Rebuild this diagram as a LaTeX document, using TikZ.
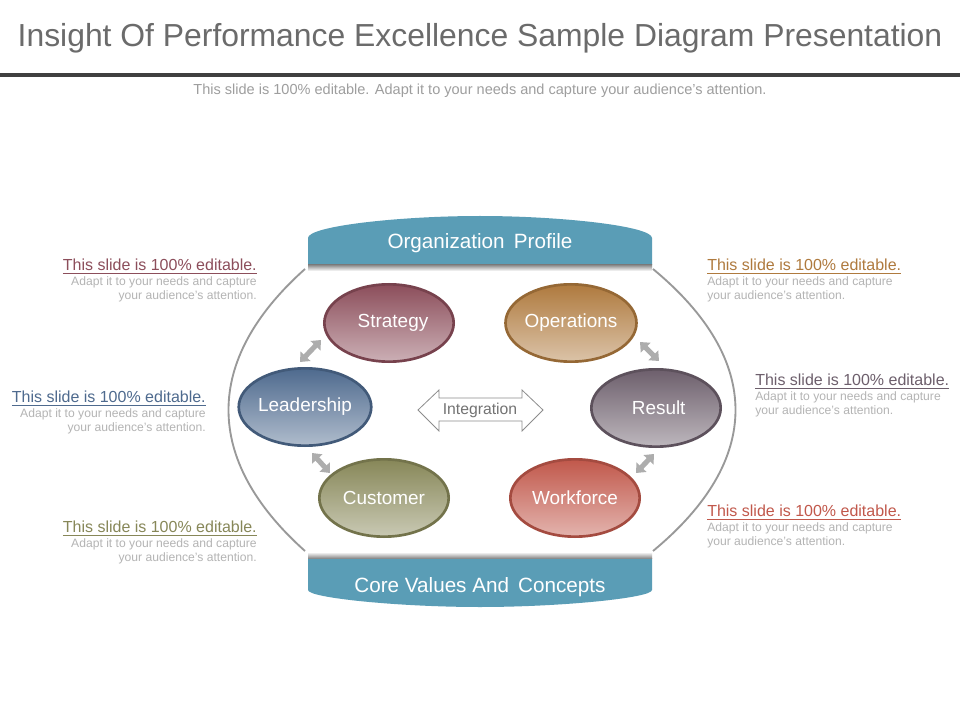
\documentclass[tikz,border=0pt]{standalone}
\usepackage{fontspec}
\setmainfont{Liberation Sans}
\usetikzlibrary{arrows.meta,shapes.geometric}
\definecolor{bandblue}{HTML}{5A9DB6}
\definecolor{strat}{HTML}{8C4E5B}
\definecolor{oper}{HTML}{AF7A3E}
\definecolor{lead}{HTML}{4E6A8E}
\definecolor{resl}{HTML}{6D5F6C}
\definecolor{cust}{HTML}{878758}
\definecolor{work}{HTML}{C1584B}
\definecolor{bodygray}{HTML}{B4B4B4}
\tikzset{
    unit/.style={draw=#1!85!black, line width=2pt, ellipse, minimum width=97pt, minimum height=58pt, inner sep=0pt,
        top color=#1, bottom color=#1!45!white, text=white, font=\fontsize{14.2}{16}\selectfont},
    link/.style={{Triangle[length=6pt,width=10pt]}-{Triangle[length=6pt,width=10pt]}, line width=3.8pt, draw=black!32},
    loop line/.style={draw=black!40, line width=1.4pt},
    head/.style={text=#1, font=\fontsize{12}{14}\selectfont, inner sep=0pt},
    note/.style={text=bodygray, font=\fontsize{9.1}{10.5}\selectfont, inner sep=0pt},
    band text/.style={text=white, font=\fontsize{15.5}{18}\selectfont},
}
\newcommand{\sidenote}[5]{
    % #1 name, #2 side, #3 position, #4 colour, #5 align
    \node[head=#4, anchor=north #2] (#1) at (#3) {\underline{This slide is 100\% editable.}};
    \node[note, anchor=north #2, align=#5] (#1n) at ([yshift=-1.5pt]#1.south #2) {Adapt it to your needs and capture\\your audience's attention.};
}

\begin{document}
\begin{tikzpicture}[x=0.75pt,y=-0.75pt]
    \useasboundingbox (0,0) rectangle (960,720);
    \fill[white] (0,0) rectangle (960,720);

    % title and rule
    \node[text=black!58, font=\fontsize{23.9}{27}\selectfont] (title) at (480,38) {Insight Of Performance Excellence Sample Diagram Presentation};
    \draw[line width=2.3pt, black!75] (0,75) -- (960,75);
    \node[text=black!38, font=\fontsize{10.9}{12}\selectfont] (sub) at (480,91) {This slide is 100\% editable. Adapt it to your needs and capture your audience's attention.};

    % bands
    \fill[bandblue] (308,265) -- (308,238) .. controls (308,226) and (400,216) .. (480,216)
        .. controls (560,216) and (652,226) .. (652,238) -- (652,265) -- cycle;
    \shade[top color=black!45, bottom color=white] (308,265) rectangle (652,271);
    \node[band text] (org) at (480,243) {Organization\, Profile};
    \fill[bandblue] (308,558) -- (308,590) .. controls (308,598) and (400,607) .. (480,607)
        .. controls (560,607) and (652,598) .. (652,590) -- (652,558) -- cycle;
    \shade[top color=white, bottom color=black!45] (308,552) rectangle (652,558);
    \node[band text] (core) at (480,587) {Core Values And\, Concepts};

    % loop lines
    \coordinate (lt) at (305,269);
    \coordinate (lb) at (305,551);
    \coordinate (rt) at (653,269);
    \coordinate (rb) at (653,551);
    \draw[loop line] (lt) .. controls (203,360) and (203,460) .. (lb);
    \draw[loop line] (rt) .. controls (763,360) and (763,460) .. (rb);

    % units
    \node[unit=strat] (strategy) at (389,323) {\raisebox{-3pt}{\hspace{6pt}Strategy}};
    \node[unit=oper] (operations) at (571,323) {Operations};
    \node[unit=lead] (leadership) at (305,407) {Leadership};
    \node[unit=resl] (result) at (656,408) {\raisebox{-3pt}{\hspace{4pt}Result}};
    \node[unit=cust] (customer) at (384,498) {\raisebox{-1pt}{Customer}};
    \node[unit=work] (workforce) at (575,498) {Workforce};

    % links
    \coordinate (a1) at (300,362); \coordinate (b1) at (321,340);
    \coordinate (a2) at (640,342); \coordinate (b2) at (659,361);
    \coordinate (a3) at (312,453); \coordinate (b3) at (330,473);
    \coordinate (a4) at (654,454); \coordinate (b4) at (636,473);
    \foreach \i in {1,...,4}
        \draw[link] (a\i) -- (b\i);

    % integration
    \node[text=black!55, font=\fontsize{11.8}{13}\selectfont] (integ) at (480,410) {Integration};
    \draw[black!45, line width=0.6pt] (418,410) -- (439,390) -- (439,398) -- (522,398) -- (522,390)
        -- (543,410) -- (522,431) -- (522,421) -- (439,421) -- (439,431) -- cycle;

    % side notes
    \sidenote{nsl}{east}{257,259}{strat}{right}
    \sidenote{nlead}{east}{206,391}{lead}{right}
    \sidenote{ncust}{east}{257,521}{cust}{right}
    \sidenote{noper}{west}{707,259}{oper}{left}
    \sidenote{nres}{west}{755,374}{resl}{left}
    \sidenote{nwork}{west}{707,505}{work}{left}
\end{tikzpicture}
\end{document}
